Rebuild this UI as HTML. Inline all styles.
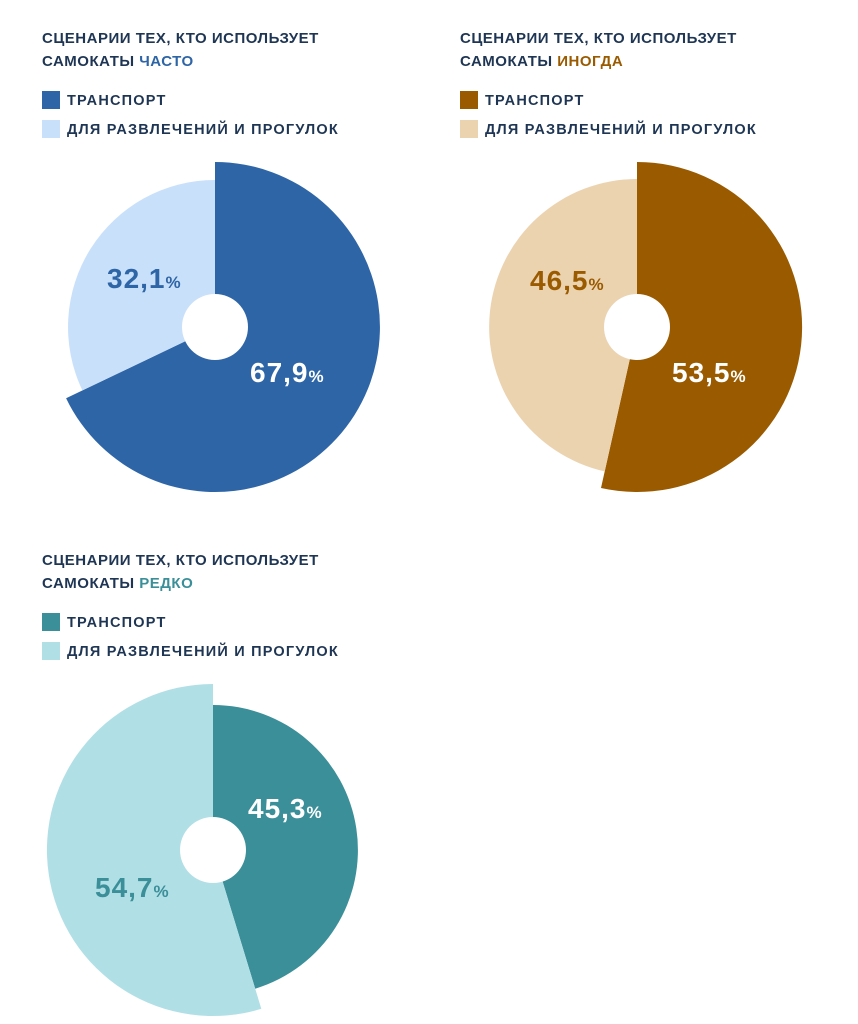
<!DOCTYPE html>
<html><head><meta charset="utf-8"><style>
body{margin:0;background:#fff;}
svg{display:block;font-family:"Liberation Sans",sans-serif;font-weight:bold;}
</style></head><body>
<svg width="858" height="1024" viewBox="0 0 858 1024">
<g fill="#1e3553" font-size="15" letter-spacing="0.5">
<text x="42" y="43">СЦЕНАРИИ ТЕХ, КТО ИСПОЛЬЗУЕТ</text>
<text x="42" y="66">САМОКАТЫ <tspan fill="#2e65a6">ЧАСТО</tspan></text>
<text x="460" y="43">СЦЕНАРИИ ТЕХ, КТО ИСПОЛЬЗУЕТ</text>
<text x="460" y="66">САМОКАТЫ <tspan fill="#9a5a00">ИНОГДА</tspan></text>
<text x="42" y="565">СЦЕНАРИИ ТЕХ, КТО ИСПОЛЬЗУЕТ</text>
<text x="42" y="588">САМОКАТЫ <tspan fill="#3a8f99">РЕДКО</tspan></text>
</g>
<g fill="#1e3553" font-size="14.5" letter-spacing="1.2">
<rect x="42" y="91" width="18" height="18" fill="#2e65a6"/><text x="67" y="105">ТРАНСПОРТ</text>
<rect x="42" y="120" width="18" height="18" fill="#c9e0fb"/><text x="67" y="134">ДЛЯ РАЗВЛЕЧЕНИЙ И ПРОГУЛОК</text>
<rect x="460" y="91" width="18" height="18" fill="#9a5a00"/><text x="485" y="105">ТРАНСПОРТ</text>
<rect x="460" y="120" width="18" height="18" fill="#ebd3b0"/><text x="485" y="134">ДЛЯ РАЗВЛЕЧЕНИЙ И ПРОГУЛОК</text>
<rect x="42" y="613" width="18" height="18" fill="#3a8f99"/><text x="67" y="627">ТРАНСПОРТ</text>
<rect x="42" y="642" width="18" height="18" fill="#b1dfe6"/><text x="67" y="656">ДЛЯ РАЗВЛЕЧЕНИЙ И ПРОГУЛОК</text>
</g>
<path d="M215,327 L215,162 A165,165 0 1 1 66.1,398.2 Z" fill="#2e65a6"/>
<path d="M215,327 L82.4,390.4 A147,147 0 0 1 215,180 Z" fill="#c9e0fb"/>
<circle cx="215" cy="327" r="33" fill="#fff"/>
<g font-size="28" letter-spacing="1">
<text x="107" y="288" fill="#2e65a6">32,1<tspan font-size="17">%</tspan></text>
<text x="250" y="382" fill="#fff">67,9<tspan font-size="17">%</tspan></text>
<text x="530" y="290" fill="#9a5a00">46,5<tspan font-size="17">%</tspan></text>
<text x="672" y="382" fill="#fff">53,5<tspan font-size="17">%</tspan></text>
</g>
<path d="M637,327 L637,162 A165,165 0 1 1 601,488 Z" fill="#9a5a00"/>
<path d="M637,327 L604.7,471.4 A148,148 0 0 1 637,179 Z" fill="#ebd3b0"/>
<circle cx="637" cy="327" r="33" fill="#fff"/>
<g font-size="28" letter-spacing="1">
<text x="530" y="290" fill="#9a5a00">46,5<tspan font-size="17">%</tspan></text>
<text x="672" y="382" fill="#fff">53,5<tspan font-size="17">%</tspan></text>
</g>
<path d="M213,850 L213,705 A145,145 0 0 1 255.2,988.7 Z" fill="#3a8f99"/>
<path d="M213,850 L261.3,1008.8 A166,166 0 1 1 213,684 Z" fill="#b1dfe6"/>
<circle cx="213" cy="850" r="33" fill="#fff"/>
<g font-size="28" letter-spacing="1">
<text x="248" y="818" fill="#fff">45,3<tspan font-size="17">%</tspan></text>
<text x="95" y="897" fill="#3a8f99">54,7<tspan font-size="17">%</tspan></text>
</g>
</svg>
</body></html>
